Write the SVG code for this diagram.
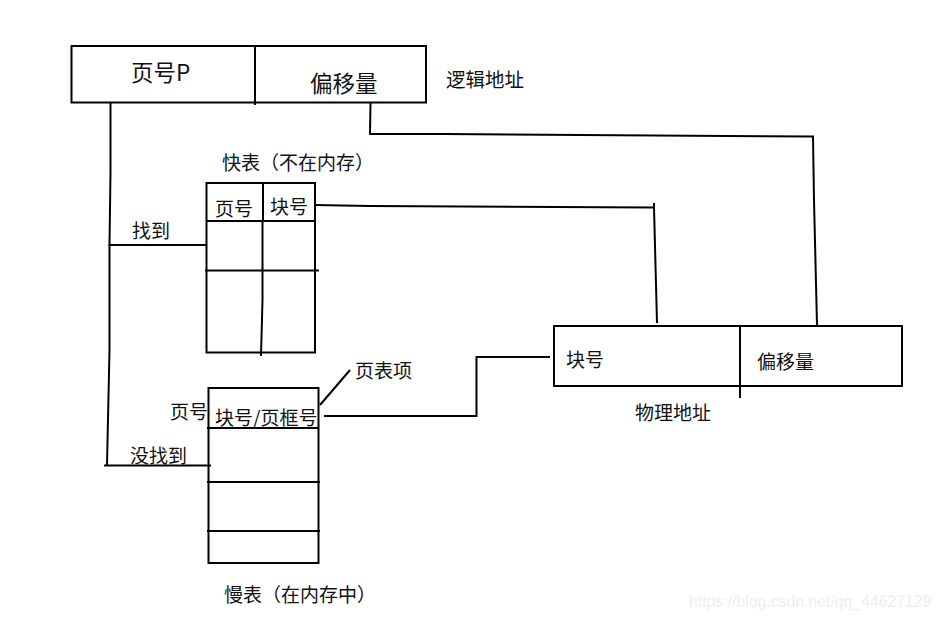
<svg xmlns="http://www.w3.org/2000/svg" width="941" height="620" viewBox="0 0 941 620">
<style>
text{font-family:"Noto Sans CJK SC","Liberation Sans",sans-serif;fill:#111}
.l{fill:none;stroke:#000;stroke-width:2}
.a{font-size:22.500px}
.b{font-size:19.500px}
.c{font-size:19px}
</style>
<rect width="941" height="620" fill="#fff"/>
<g id="connectors">
<path class="l" d="M110.500 103V172L109.500 245V350L107 465"/>
<path class="l" d="M108.500 245H206"/>
<path class="l" d="M370.500 103L370 134H444L813 136.500L814 200L817 325"/>
<path class="l" d="M315 205L370 206L654 207.500L657 323"/>
<path class="l" d="M654 203V208"/>
<path class="l" d="M324 416H476.500V357H550"/>
<path class="l" d="M104 465.500H211"/>
<path class="l" d="M320 405L350 370"/>
</g>
<g id="logical-address">
<rect class="l" x="71.500" y="46" width="354.500" height="56.500"/>
<path class="l" d="M255 46V105"/>
<text class="a" x="131" y="81">页号P</text>
<text class="a" x="310" y="92">偏移量</text>
<text class="b" x="446" y="87">逻辑地址</text>
</g>
<g id="fast-table">
<rect class="l" x="206.500" y="183" width="108.500" height="169.500"/>
<path class="l" d="M263 183V221M262.500 221V300L261 356M206 221H315M205 270.500H319"/>
<text class="c" x="222" y="170">快表（不在内存）</text>
<text class="c" x="215" y="216">页号</text>
<text class="c" x="270" y="214">块号</text>
<text class="c" x="132" y="238">找到</text>
</g>
<g id="slow-table">
<rect class="l" x="208.500" y="388" width="110" height="175"/>
<path class="l" d="M207 428H319M207 482H320M207 531H320"/>
<text class="c" x="170" y="419">页号</text>
<text class="c" x="215" y="425">块号/页框号</text>
<text class="c" x="355" y="378">页表项</text>
<text class="c" x="130" y="463">没找到</text>
<text class="c" x="224" y="602">慢表（在内存中）</text>
</g>
<g id="physical-address">
<rect class="l" x="554" y="326" width="348" height="60"/>
<path class="l" d="M740 326V398"/>
<text class="c" x="566" y="367">块号</text>
<text class="c" x="757" y="369">偏移量</text>
<text class="c" x="635" y="420">物理地址</text>
</g>
<text x="689" y="607" font-size="15.800" style="font-family:'Liberation Sans',sans-serif;fill:#eeeeee">https://blog.csdn.net/qq_44627129</text>
</svg>
